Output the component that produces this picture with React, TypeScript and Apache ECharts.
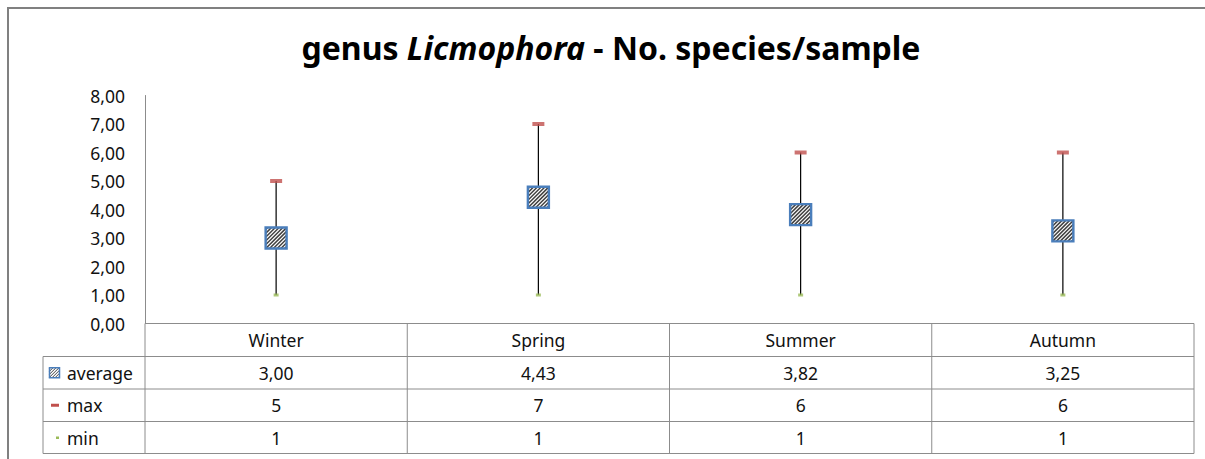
import React, { useEffect, useRef } from "react";
import * as echarts from "echarts";

const categories = ["Winter", "Spring", "Summer", "Autumn"];
const averages = [3.0, 4.43, 3.82, 3.25];
const maxima = [5, 7, 6, 6];
const minima = [1, 1, 1, 1];
const rowLabels = ["average", "max", "min"];
const yMin = 0;
const yMax = 8;
const yInterval = 1;

const FONT = "'Noto Sans', 'Open Sans', sans-serif";
const GRID_LEFT = 145;
const GRID_RIGHT_X = 1194;
const GRID_TOP = 95.5;
const AXIS_Y = 323.5;
const W = 1205;
const H = 459;
const TABLE_LEFT = 43;
const ROW_LINES = [323.5, 356.5, 389, 421.5, 453.5];
const LINE_COLOR = "#8c8c8c";
const TEXT_COLOR = "#111";
const FS = 17.5;

const fmtComma = (v: number) => v.toFixed(2).replace(".", ",");

function hatchSquare(cx: number, cy: number, s: number, lw: number, step: number, border: number) {
  const x0 = cx - s / 2;
  const y0 = cy - s / 2;
  const children: any[] = [
    { type: "rect", shape: { x: x0, y: y0, width: s, height: s }, style: { fill: "#fff" } },
  ];
  for (let c = -s + step / 2; c < s; c += step) {
    const u1 = Math.max(0, -c);
    const u2 = Math.min(s, s - c);
    if (u2 <= u1) continue;
    children.push({
      type: "line",
      shape: { x1: x0 + u1, y1: y0 + s - (u1 + c), x2: x0 + u2, y2: y0 + s - (u2 + c) },
      style: { stroke: "#404040", lineWidth: lw },
    });
  }
  children.push({
    type: "rect",
    shape: { x: x0, y: y0, width: s, height: s },
    style: { fill: "none", stroke: "#4a7ebb", lineWidth: border },
  });
  return children;
}

export default function App() {
  const ref = useRef<HTMLDivElement>(null);
  useEffect(() => {
    if (!ref.current) return;
    const chart = echarts.init(ref.current, null, { renderer: "svg" });
    const colW = (GRID_RIGHT_X - GRID_LEFT) / categories.length;
    const colCenter = (i: number) => GRID_LEFT + colW * (i + 0.5);

    const graphics: any[] = [];
    graphics.push({
      type: "polyline",
      shape: { points: [[8, H + 5], [8, 8], [W + 5, 8]] },
      style: { stroke: "#808080", lineWidth: 2, fill: "none" },
    });
    graphics.push({
      type: "text",
      x: 611,
      y: 47,
      style: {
        text: "{a|genus }{b|Licmophora}{a| - No. species/sample}",
        align: "center",
        verticalAlign: "middle",
        rich: {
          a: { fontFamily: FONT, fontSize: 32, fontWeight: "bold", fill: "#000" },
          b: { fontFamily: FONT, fontSize: 32, fontWeight: "bold", fontStyle: "italic", fill: "#000" },
        },
      },
    });
    ROW_LINES.forEach((y, k) => {
      graphics.push({
        type: "line",
        shape: { x1: k === 0 ? GRID_LEFT : TABLE_LEFT, y1: y, x2: GRID_RIGHT_X, y2: y },
        style: { stroke: LINE_COLOR, lineWidth: 1 },
      });
    });
    graphics.push({
      type: "line",
      shape: { x1: TABLE_LEFT, y1: ROW_LINES[1], x2: TABLE_LEFT, y2: ROW_LINES[4] },
      style: { stroke: LINE_COLOR, lineWidth: 1 },
    });
    for (let i = 0; i <= categories.length; i++) {
      const x = GRID_LEFT + colW * i;
      graphics.push({
        type: "line",
        shape: { x1: x, y1: ROW_LINES[0], x2: x, y2: ROW_LINES[4] },
        style: { stroke: LINE_COLOR, lineWidth: 1 },
      });
    }
    const rowMid = (r: number) => (ROW_LINES[r] + ROW_LINES[r + 1]) / 2;
    const rows = [averages.map(fmtComma), maxima.map(String), minima.map(String)];
    rows.forEach((vals, r) => {
      const y = rowMid(r + 1);
      graphics.push({
        type: "text",
        x: 67,
        y,
        style: { text: rowLabels[r], fontFamily: FONT, fontSize: FS, fill: TEXT_COLOR, verticalAlign: "middle" },
      });
      vals.forEach((v, i) => {
        graphics.push({
          type: "text",
          x: colCenter(i),
          y,
          style: { text: v, fontFamily: FONT, fontSize: FS, fill: TEXT_COLOR, align: "center", verticalAlign: "middle" },
        });
      });
    });
    graphics.push({ type: "group", children: hatchSquare(54.5, rowMid(1), 10, 1, 3, 1.5) });
    graphics.push({
      type: "rect",
      shape: { x: 51, y: rowMid(2) - 1.5, width: 8, height: 3 },
      style: { fill: "#c0504d" },
    });
    graphics.push({
      type: "rect",
      shape: { x: 56, y: rowMid(3) - 1, width: 3, height: 2.5 },
      style: { fill: "#9bbb59" },
    });

    chart.setOption({
      animation: false,
      grid: {
        left: GRID_LEFT,
        right: W - GRID_RIGHT_X,
        top: GRID_TOP,
        bottom: H - AXIS_Y,
        containLabel: false,
      },
      xAxis: {
        type: "category",
        data: categories,
        boundaryGap: true,
        axisLine: { show: false },
        axisTick: { show: false },
        axisLabel: { fontFamily: FONT, fontSize: FS, color: TEXT_COLOR, margin: 7, verticalAlign: "top" },
      },
      yAxis: {
        type: "value",
        min: yMin,
        max: yMax,
        interval: yInterval,
        splitLine: { show: false },
        axisLine: { show: true, lineStyle: { color: LINE_COLOR, width: 1 } },
        axisTick: { show: false },
        axisLabel: {
          fontFamily: FONT,
          fontSize: FS,
          color: TEXT_COLOR,
          margin: 20,
          formatter: (v: number) => fmtComma(v),
        },
      },
      series: [
        {
          type: "custom",
          name: "hilo",
          data: categories.map((_, i) => [i, minima[i], maxima[i]]),
          renderItem: (params: any, api: any) => {
            const i = api.value(0);
            const p1 = api.coord([i, api.value(1)]);
            const p2 = api.coord([i, api.value(2)]);
            return {
              type: "line",
              shape: { x1: p1[0], y1: p1[1], x2: p2[0], y2: p2[1] },
              style: { stroke: "#000", lineWidth: 1.2 },
            };
          },
          z: 1,
        },
        {
          type: "custom",
          name: "average",
          data: categories.map((_, i) => [i, averages[i]]),
          renderItem: (params: any, api: any) => {
            const p = api.coord([api.value(0), api.value(1)]);
            return { type: "group", children: hatchSquare(p[0], p[1], 21, 1.5, 3.8, 2.4) };
          },
          z: 2,
        },
        {
          type: "scatter",
          name: "max",
          data: maxima,
          symbol: "rect",
          symbolSize: [12, 4],
          itemStyle: { color: "#c0504d" },
          z: 3,
        },
        {
          type: "scatter",
          name: "min",
          data: minima,
          symbol: "rect",
          symbolSize: [5, 3],
          itemStyle: { color: "#9bbb59" },
          z: 3,
        },
      ],
      graphic: graphics,
    });
    return () => chart.dispose();
  }, []);
  return <div ref={ref} style={{ position: "fixed", left: 0, top: 0, width: W, height: H, background: "#fff" }} />;
}
